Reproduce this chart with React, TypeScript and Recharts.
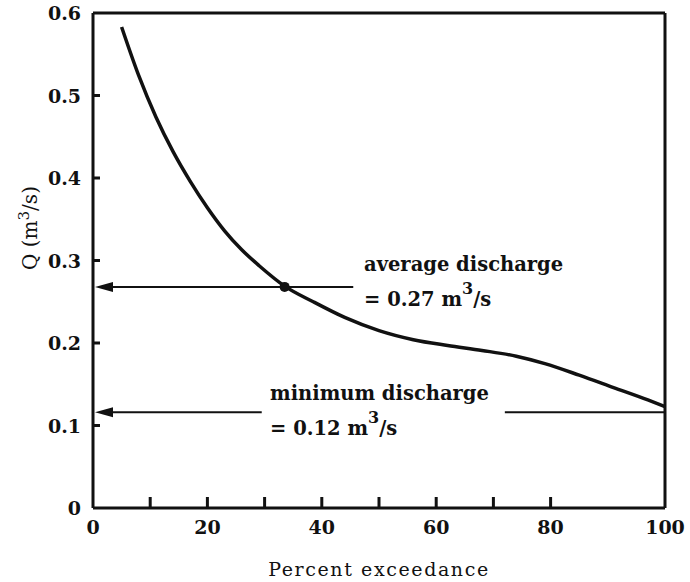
import React from "react";
import {
  LineChart,
  Line,
  XAxis,
  YAxis,
  ReferenceLine,
  ReferenceDot,
} from "recharts";

// flow duration curve
const exceedance = [5, 8, 11, 14, 17, 20, 23, 26, 29, 33.5, 38.5, 44, 50, 56, 62, 68, 74, 79, 85, 91, 97, 100];
const discharge = [
  0.583, 0.524, 0.474, 0.432, 0.396, 0.364, 0.336, 0.313, 0.294, 0.269, 0.25, 0.231, 0.215, 0.204, 0.197,
  0.191, 0.184, 0.175, 0.161, 0.146, 0.131, 0.123,
];

const xTicks = [0, 10, 20, 30, 40, 50, 60, 70, 80, 90, 100];
const xLabels = ["0", "", "20", "", "40", "", "60", "", "80", "", "100"];
const yTicks = [0, 0.1, 0.2, 0.3, 0.4, 0.5, 0.6];
const yLabels = ["0", "0.1", "0.2", "0.3", "0.4", "0.5", "0.6"];

const avgQ = 0.268;
const avgX = 33.5;
const avgLineEnd = 45.5;
const minQ = 0.116;
const minArrowEnd = 29.5;
const minLineStart = 72;

const data = exceedance.map((x, i) => ({ x, q: discharge[i] }));

const FONT = "'DejaVu Serif', serif";
const INK = "#111";

function XTick(props: any) {
  const { x, y, payload } = props;
  const label = xLabels[xTicks.indexOf(payload.value)] ?? "";
  return (
    <g>
      {payload.value > 0 && payload.value < 100 && payload.value !== 90 && (
        <line x1={x} y1={y} x2={x} y2={y - 11} stroke={INK} strokeWidth={3} />
      )}
      <text x={x} y={y + 26} textAnchor="middle" fontFamily={FONT} fontSize={19} fontWeight="bold" fill={INK}>
        {label}
      </text>
    </g>
  );
}

function YTick(props: any) {
  const { x, y, payload } = props;
  const label = yLabels[yTicks.indexOf(payload.value)] ?? "";
  return (
    <g>
      {payload.value > 0 && payload.value < 0.6 && (
        <line x1={x} y1={y} x2={x + 7} y2={y} stroke={INK} strokeWidth={3} />
      )}
      <text x={x - 12} y={y + 7} textAnchor="end" fontFamily={FONT} fontSize={19} fontWeight="bold" fill={INK}>
        {label}
      </text>
    </g>
  );
}

function ArrowShape(props: any) {
  const { x1, y1, x2, y2 } = props;
  const left = Math.min(x1, x2);
  const right = Math.max(x1, x2);
  return (
    <g>
      <line x1={left + 10} y1={y1} x2={right} y2={y2} stroke={INK} strokeWidth={2} />
      <polygon points={`${left + 2},${y1} ${left + 20},${y1 - 5} ${left + 20},${y1 + 5}`} fill={INK} />
    </g>
  );
}

function Note({ x, y, lines }: { x: number; y: number; lines: [string, string] }) {
  return (
    <text x={x} y={y} fontFamily={FONT} fontSize={19.5} fontWeight="bold" fill={INK}>
      <tspan x={x}>{lines[0]}</tspan>
      <tspan x={x} dy={35}>
        {lines[1]}
      </tspan>
      <tspan dy={-12} fontSize={16}>
        3
      </tspan>
      <tspan dy={12}>/s</tspan>
    </text>
  );
}

export default function App() {
  return (
    <div style={{ position: "absolute", left: 0, top: 0, width: 690, height: 582, background: "#fff" }}>
      <LineChart width={690} height={582} data={data} margin={{ top: 13, right: 25, left: 33, bottom: 0 }}>
        <XAxis
          type="number"
          dataKey="x"
          domain={[0, 100]}
          ticks={xTicks}
          tick={<XTick />}
          tickLine={false}
          tickSize={0}
          tickMargin={0}
          axisLine={{ stroke: INK, strokeWidth: 3 }}
          height={74}
          label={{
            value: "Percent exceedance",
            position: "insideBottom",
            offset: 6,
            fontFamily: FONT,
            fontSize: 19,
            fill: INK,
            letterSpacing: 1.6,
          }}
        />
        <YAxis
          type="number"
          domain={[0, 0.6]}
          ticks={yTicks}
          tick={<YTick />}
          tickLine={false}
          tickSize={0}
          tickMargin={0}
          axisLine={{ stroke: INK, strokeWidth: 3 }}
          width={60}
        />
        <ReferenceLine y={0.6} stroke={INK} strokeWidth={3} />
        <ReferenceLine x={100} stroke={INK} strokeWidth={3} />
        <ReferenceLine
          segment={[
            { x: 0, y: avgQ },
            { x: avgLineEnd, y: avgQ },
          ]}
          shape={<ArrowShape />}
        />
        <ReferenceLine
          segment={[
            { x: 0, y: minQ },
            { x: minArrowEnd, y: minQ },
          ]}
          shape={<ArrowShape />}
        />
        <ReferenceLine
          segment={[
            { x: minLineStart, y: minQ },
            { x: 100, y: minQ },
          ]}
          stroke={INK}
          strokeWidth={2}
        />
        <Line
          type="monotone"
          dataKey="q"
          stroke={INK}
          strokeWidth={3.5}
          dot={false}
          isAnimationActive={false}
        />
        <ReferenceDot x={avgX} y={avgQ} r={5} fill={INK} stroke="none" />
      </LineChart>
      <svg width={690} height={582} style={{ position: "absolute", left: 0, top: 0, pointerEvents: "none" }}>
        <text
          transform="translate(37 228) rotate(-90)"
          textAnchor="middle"
          fontFamily={FONT}
          fontSize={20}
          fill={INK}
        >
          Q (m<tspan dy={-8} fontSize={15}>3</tspan>
          <tspan dy={8}>/s)</tspan>
        </text>
        <Note x={364} y={271} lines={["average discharge", "= 0.27 m"]} />
        <Note x={270} y={400} lines={["minimum discharge", "= 0.12 m"]} />
      </svg>
    </div>
  );
}
